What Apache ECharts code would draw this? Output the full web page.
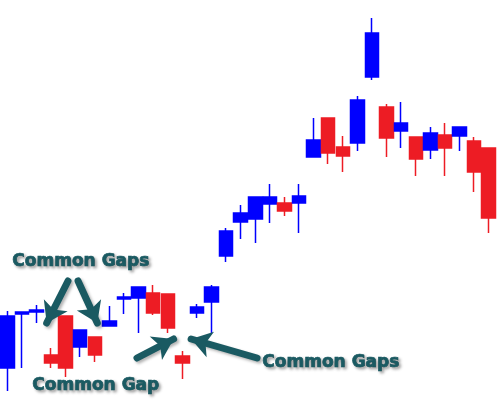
<!DOCTYPE html>
<html>
<head>
<meta charset="utf-8">
<script src="https://cdn.jsdelivr.net/npm/echarts@6/dist/echarts.min.js"></script>
<style>
html,body{margin:0;padding:0;background:#fff;}
#chart{width:498px;height:400px;}
</style>
</head>
<body>
<div id="chart"></div>
<script>
// Candle index labels (no visible axis in the reference)
var categories = [];
for (var i = 1; i <= 34; i++) categories.push('D' + i);

// Price values: [open, close, low, high]
var opens  = [32, 86, 88, 45, 84, 53, 63, 74, 101, 102, 107, 106, 44, 87, 98, 144, 178, 181, 196, 197, 197, 243, 282, 253, 257, 323, 293, 269, 263, 250, 265, 264, 259, 252];
var closes = [84, 88, 90, 37, 32, 70, 45, 79, 103, 113, 87, 72, 37, 93, 113, 169, 187, 203, 203, 189, 204, 260, 247, 244, 300, 367, 262, 277, 241, 267, 252, 273, 228, 182];
var lows   = [9, 32, 77, 32, 23, 43, 38, 74, 86, 67, 85, 67, 21, 82, 67, 138, 161, 157, 177, 184, 167, 243, 236, 228, 249, 320, 243, 252, 224, 241, 224, 249, 208, 167];
var highs  = [89, 88, 95, 52, 84, 70, 63, 94, 107, 113, 115, 106, 49, 96, 115, 172, 195, 203, 216, 203, 216, 282, 282, 264, 304, 382, 296, 298, 263, 273, 277, 273, 263, 252];

// Annotation arrows in data space: [candle position, price] tail -> tip
var arrowTails = [[4.16, 119], [4.85, 119], [8.89, 42], [17.12, 42]];
var arrowTips  = [[2.7, 77], [6.17, 77], [11.4, 61], [12.6, 61]];

// Annotation texts
var noteTexts = ['Common Gaps', 'Common Gap', 'Common Gaps'];

var candleData = categories.map(function (c, i) {
  return [opens[i], closes[i], lows[i], highs[i]];
});
var arrowData = arrowTails.map(function (t, i) {
  return { coords: [t, arrowTips[i]] };
});

var TEAL = '#1a5a62';
var chart = echarts.init(document.getElementById('chart'), null, { renderer: 'canvas' });
var textStyleBase = {
  font: 'bold 17px "DejaVu Sans", Verdana, sans-serif',
  fill: TEAL,
  stroke: TEAL,
  lineWidth: 0.7,
  textShadowColor: 'rgba(0,0,0,0.35)',
  textShadowBlur: 3,
  textShadowOffsetX: 2,
  textShadowOffsetY: 2,
  align: 'left',
  verticalAlign: 'middle'
};
function txt(s, x, y) {
  var st = Object.assign({}, textStyleBase, { text: s });
  return { type: 'text', left: x, top: y, z: 100, style: st };
}
chart.setOption({
  animation: false,
  backgroundColor: '#ffffff',
  grid: { left: 0, right: 2, top: 0, bottom: 0 },
  xAxis: [
    { type: 'category', data: categories, show: false, boundaryGap: true },
    { type: 'value', min: -0.5, max: 33.5, show: false }
  ],
  yAxis: { type: 'value', min: 0, max: 400, show: false, splitLine: { show: false } },
  series: [
    {
      type: 'candlestick',
      data: candleData,
      barWidth: 14,
      barMaxWidth: 20,
      itemStyle: {
        color: '#0000ff',
        color0: '#ed1c24',
        borderColor: '#0000ff',
        borderColor0: '#ed1c24',
        borderWidth: 1.5
      }
    },
    {
      type: 'lines',
      coordinateSystem: 'cartesian2d',
      xAxisIndex: 1,
      yAxisIndex: 0,
      z: 10,
      symbol: ['none', 'arrow'],
      symbolSize: [20, 20],
      lineStyle: {
        color: TEAL,
        width: 7,
        opacity: 1,
        cap: 'round',
        shadowColor: 'rgba(0,0,0,0.3)',
        shadowBlur: 3,
        shadowOffsetX: 2,
        shadowOffsetY: 2
      },
      data: arrowData
    }
  ],
  graphic: [
    txt(noteTexts[0], 12, 253),
    txt(noteTexts[1], 32, 377),
    txt(noteTexts[2], 262, 354)
  ]
});
</script>
</body>
</html>
